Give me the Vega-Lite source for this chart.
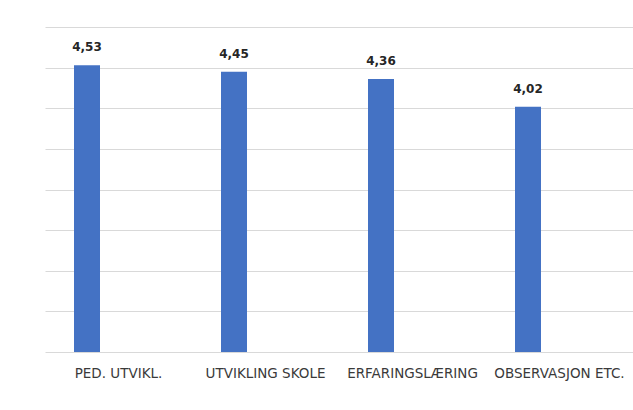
{
  "$schema": "https://vega.github.io/schema/vega-lite/v6.json",
  "width": 588,
  "height": 325,
  "autosize": {"type": "none"},
  "padding": {"left": 45, "top": 27, "right": 0, "bottom": 58},
  "background": "white",
  "config": {
    "view": {"stroke": null},
    "locale": {"number": {"decimal": ",", "thousands": " ", "grouping": [3], "currency": ["", " kr"]}}
  },
  "data": {
    "values": [
      {"kategori": "PED. UTVIKL.", "serie": "A", "verdi": 4.53},
      {"kategori": "UTVIKLING SKOLE", "serie": "A", "verdi": 4.45},
      {"kategori": "ERFARINGSLÆRING", "serie": "A", "verdi": 4.36},
      {"kategori": "OBSERVASJON ETC.", "serie": "A", "verdi": 4.02}
    ]
  },
  "encoding": {
    "x": {
      "field": "kategori",
      "type": "nominal",
      "sort": null,
      "scale": {"paddingInner": 0.142857, "paddingOuter": 0.0714286},
      "axis": {
        "title": null,
        "labelAngle": 0,
        "ticks": false,
        "domain": false,
        "labelFont": "DejaVu Sans",
        "labelFontSize": 13.5,
        "labelColor": "#3a3a3a",
        "labelPadding": 14
      }
    },
    "xOffset": {
      "field": "serie",
      "type": "nominal",
      "scale": {"domain": ["A", "B"], "paddingInner": 0, "paddingOuter": 0}
    },
    "y": {
      "field": "verdi",
      "type": "quantitative",
      "scale": {"domain": [1, 5], "zero": false, "nice": false},
      "axis": {
        "title": null,
        "labels": false,
        "ticks": false,
        "domain": false,
        "grid": true,
        "gridColor": "#d9d9d9",
        "gridWidth": 1,
        "values": [1, 1.5, 2, 2.5, 3, 3.5, 4, 4.5, 5]
      }
    }
  },
  "layer": [
    {
      "mark": {"type": "bar", "width": 26, "color": "#4472c4"},
      "encoding": {"y2": {"datum": 1}}
    },
    {
      "mark": {
        "type": "text",
        "baseline": "bottom",
        "dy": -11,
        "font": "DejaVu Sans",
        "fontSize": 12,
        "fontWeight": "bold",
        "color": "#262626"
      },
      "encoding": {"text": {"field": "verdi", "type": "quantitative", "format": ".2f"}}
    }
  ]
}
